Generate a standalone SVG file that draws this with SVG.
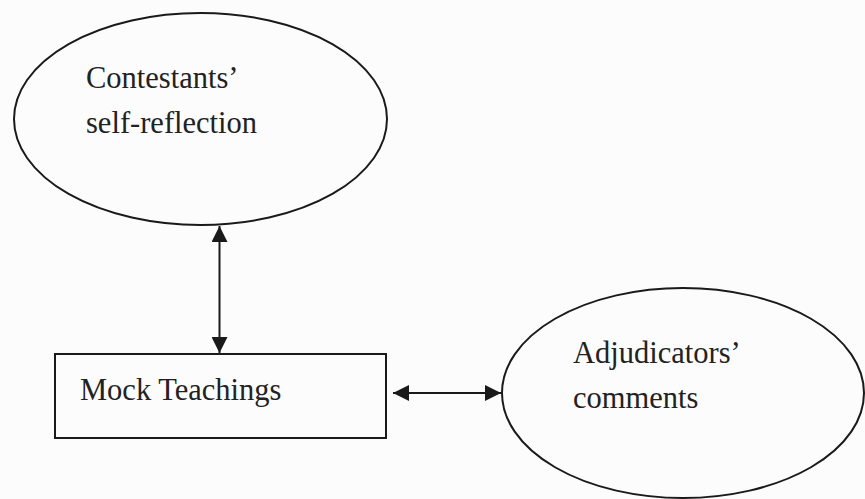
<svg xmlns="http://www.w3.org/2000/svg" width="865" height="499" viewBox="0 0 865 499">
  <style>
    .shape { fill: none; stroke: #1a1a1a; stroke-width: 2; }
    .label { font-family: "Liberation Serif", "Times New Roman", serif; font-size: 30.5px; fill: #222; }
    .link { stroke: #1a1a1a; stroke-width: 2; fill: none; }
  </style>
  <defs>
    <marker id="head" viewBox="0 0 16 16" refX="16" refY="8" markerWidth="16" markerHeight="16" markerUnits="userSpaceOnUse" orient="auto-start-reverse">
      <path d="M0,0 L16,8 L0,16 Z" fill="#1a1a1a"/>
    </marker>
  </defs>
  <rect width="865" height="499" fill="#fcfcfc"/>

  <g id="self-reflection">
    <ellipse class="shape" cx="200.5" cy="119" rx="186.5" ry="106"/>
    <text class="label" x="86" y="88">Contestants’</text>
    <text class="label" x="86" y="133">self-reflection</text>
  </g>

  <g id="mock-teachings">
    <rect class="shape" x="55" y="354" width="331" height="84"/>
    <text class="label" x="80" y="400">Mock Teachings</text>
  </g>

  <g id="adjudicators-comments">
    <ellipse class="shape" cx="683" cy="393" rx="181" ry="105"/>
    <text class="label" x="573" y="363">Adjudicators’</text>
    <text class="label" x="573" y="408">comments</text>
  </g>

  <g id="connectors">
    <line class="link" x1="219.5" y1="226" x2="219.5" y2="353" marker-start="url(#head)" marker-end="url(#head)"/>
    <line class="link" x1="393" y1="393" x2="501" y2="393" marker-start="url(#head)" marker-end="url(#head)"/>
  </g>
</svg>
